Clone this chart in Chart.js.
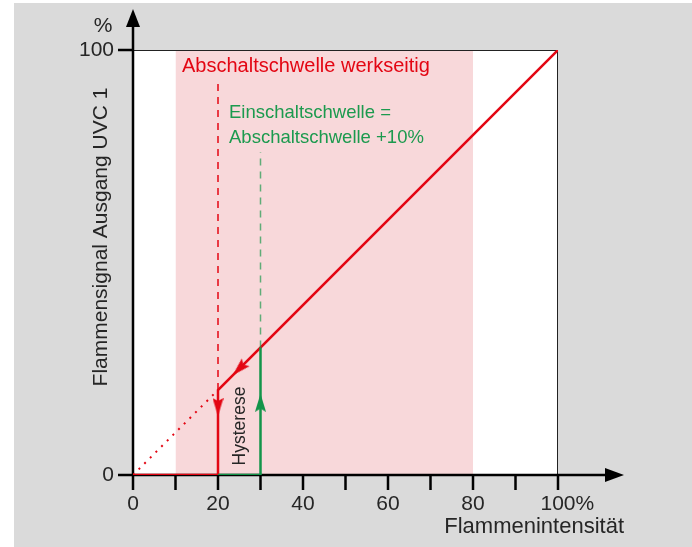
<!DOCTYPE html>
<html>
<head>
<meta charset="utf-8">
<script src="https://cdn.jsdelivr.net/npm/chart.js@4.4.1/dist/chart.umd.min.js"></script>
<style>
  html, body { margin: 0; padding: 0; background: #fff; }
  #wrap { width: 692px; height: 547px; position: relative; }
</style>
</head>
<body>
<div id="wrap"><canvas id="hysterese"></canvas></div>
<script>
// --- Daten ---
const xTickValues = [0, 10, 20, 30, 40, 50, 60, 70, 80, 90, 100];
const xLabelValues = [0, 20, 40, 60, 80, 100];
const xLabels = ['0', '20', '40', '60', '80', '100%'];
const yLabelValues = [0, 100];
const yLabels = ['0', '100'];

// Abschaltkurve (rot) und Einschaltkurve (grün)
const signalX = [0, 20, 20, 100];
const signalY = [0, 0, 20, 100];
const einX = [20, 30, 30];
const einY = [0, 0, 30];
const dottedX = [0, 20];
const dottedY = [0, 20];
// Bereich werkseitige Abschaltschwelle
const bandX = [10, 80];
const bandY = [100, 100];
// Hysteresefläche
const hystX = [20, 30];
const hystY = [20, 30];
// Hilfslinien
const abschaltDashX = [20, 20];
const abschaltDashY = [20, 93];
const einschaltDashX = [30, 30];
const einschaltDashY = [30, 76];
// Pfeile
const arrowX = [20, 30, 25];
const arrowY = [16, 17, 25];
const arrowRot = [180, 0, 225];

const ROT = '#e30613';
const GRUEN = '#13944a';
const TEXT = '#262626';
const FONT = '"Liberation Sans", Arial, sans-serif';

const pts = (xs, ys) => xs.map((x, i) => ({ x: x, y: ys[i] }));

// schlanke Pfeilspitze (zeigt nach oben)
function pfeil(farbe) {
    const cv = document.createElement('canvas');
    cv.width = 11;
    cv.height = 18;
    const c = cv.getContext('2d');
    c.fillStyle = farbe;
    c.beginPath();
    c.moveTo(5.5, 0);
    c.lineTo(11, 18);
    c.lineTo(5.5, 15);
    c.lineTo(0, 18);
    c.closePath();
    c.fill();
    return cv;
}
const pfeilRot = pfeil(ROT);
const pfeilGruen = pfeil(GRUEN);

const rahmen = {
    id: 'rahmen',
    beforeDraw(chart) {
        const c = chart.ctx;
        const a = chart.chartArea;
        c.save();
        c.fillStyle = '#dadada';
        c.fillRect(14, 3, chart.width - 14, chart.height - 3);
        c.fillStyle = '#ffffff';
        c.fillRect(a.left, a.top, a.right - a.left, a.bottom - a.top);
        c.restore();
    },
    beforeDatasetsDraw(chart) {
        const c = chart.ctx;
        const a = chart.chartArea;
        const sx = chart.scales.x, sy = chart.scales.y;
        c.save();
        // dünner Rahmen oben / rechts
        c.strokeStyle = '#222';
        c.lineWidth = 1;
        c.beginPath();
        c.moveTo(a.left, a.top + 0.5);
        c.lineTo(a.right, a.top + 0.5);
        c.moveTo(a.right - 0.5, a.top);
        c.lineTo(a.right - 0.5, a.bottom);
        c.stroke();
        // Achsen
        c.strokeStyle = '#000';
        c.lineWidth = 2.5;
        const x0 = sx.getPixelForValue(0), y0 = sy.getPixelForValue(0);
        c.beginPath();
        c.moveTo(x0, y0 + 15);
        c.lineTo(x0, 24);
        c.moveTo(x0 - 15, y0);
        c.lineTo(608, y0);
        xTickValues.forEach(v => {
            const px = sx.getPixelForValue(v);
            c.moveTo(px, y0);
            c.lineTo(px, y0 + 15);
        });
        yLabelValues.forEach(v => {
            const py = sy.getPixelForValue(v);
            c.moveTo(x0 - 15, py);
            c.lineTo(x0, py);
        });
        c.stroke();
        c.fillStyle = '#000';
        c.beginPath();
        c.moveTo(x0, 9);
        c.lineTo(x0 - 7, 27);
        c.lineTo(x0 + 7, 27);
        c.closePath();
        c.fill();
        c.beginPath();
        c.moveTo(624, y0);
        c.lineTo(605, y0 - 7);
        c.lineTo(605, y0 + 7);
        c.closePath();
        c.fill();
        c.restore();
    },
    afterDatasetsDraw(chart) {
        const c = chart.ctx;
        const sx = chart.scales.x, sy = chart.scales.y;
        c.save();
        c.fillStyle = TEXT;
        c.font = '21px ' + FONT;
        c.textBaseline = 'middle';
        // x-Beschriftung
        xLabelValues.forEach((v, i) => {
            const px = sx.getPixelForValue(v);
            const lab = xLabels[i];
            const num = lab.replace('%', '');
            const w = c.measureText(num).width;
            c.textAlign = 'left';
            c.fillText(lab, px - w / 2, 504);
        });
        // y-Beschriftung
        c.textAlign = 'right';
        yLabelValues.forEach((v, i) => {
            c.fillText(yLabels[i], 114, sy.getPixelForValue(v));
        });
        c.textAlign = 'center';
        c.fillText('%', 103, 26);
        // Achsentitel
        c.font = '22px ' + FONT;
        c.textAlign = 'right';
        c.fillText('Flammenintensität', 624, 527);
        c.font = '21px ' + FONT;
        c.save();
        c.translate(101, 237);
        c.rotate(-Math.PI / 2);
        c.textAlign = 'center';
        c.fillText('Flammensignal Ausgang UVC 1', 0, 0);
        c.restore();
        // Annotationen
        c.font = '20px ' + FONT;
        c.textAlign = 'left';
        c.fillStyle = ROT;
        c.fillText('Abschaltschwelle werkseitig', 182, 66);
        c.font = '18.5px ' + FONT;
        c.fillStyle = '#1c9a4e';
        c.fillText('Einschaltschwelle =', 229, 113);
        c.fillText('Abschaltschwelle +10%', 229, 138);
        c.fillStyle = TEXT;
        c.font = '17.5px ' + FONT;
        c.save();
        c.translate(240, 426);
        c.rotate(-Math.PI / 2);
        c.textAlign = 'center';
        c.fillText('Hysterese', 0, 0);
        c.restore();
        c.restore();
    }
};

const ctx = document.getElementById('hysterese').getContext('2d');
new Chart(ctx, {
    type: 'line',
    data: {
        datasets: [
            {
                data: pts(bandX, bandY),
                borderColor: 'transparent',
                backgroundColor: '#f8d8da',
                fill: 'origin',
                pointRadius: 0,
                borderWidth: 0
            },
            {
                data: pts(hystX, hystY),
                borderColor: 'transparent',
                backgroundColor: '#ececec',
                fill: 'origin',
                pointRadius: 0,
                borderWidth: 0
            },
            {
                data: pts(dottedX, dottedY),
                borderColor: ROT,
                borderWidth: 2,
                borderDash: [2, 6],
                pointRadius: 0,
                fill: false
            },
            {
                data: pts(abschaltDashX, abschaltDashY),
                borderColor: ROT,
                borderWidth: 1.5,
                borderDash: [7, 6],
                pointRadius: 0,
                fill: false
            },
            {
                data: pts(einschaltDashX, einschaltDashY),
                borderColor: 'rgba(30,154,78,0.7)',
                borderWidth: 1.5,
                borderDash: [7, 6],
                pointRadius: 0,
                fill: false
            },
            {
                data: pts(einX, einY),
                borderColor: GRUEN,
                borderWidth: 2.5,
                pointRadius: 0,
                fill: false
            },
            {
                data: pts(signalX, signalY),
                borderColor: ROT,
                borderWidth: 2.5,
                pointRadius: 0,
                fill: false
            },
            {
                data: pts(arrowX, arrowY),
                showLine: false,
                pointStyle: [pfeilRot, pfeilGruen, pfeilRot],
                pointRadius: 8,
                pointRotation: arrowRot
            }
        ]
    },
    options: {
        responsive: true,
        maintainAspectRatio: false,
        animation: false,
        events: [],
        layout: { padding: { left: 133, top: 50, right: 134, bottom: 72 } },
        plugins: {
            legend: { display: false },
            tooltip: { enabled: false },
            filler: { drawTime: 'beforeDatasetsDraw' }
        },
        scales: {
            x: { type: 'linear', min: 0, max: 100, display: false },
            y: { type: 'linear', min: 0, max: 100, display: false }
        }
    },
    plugins: [rahmen]
});
</script>
</body>
</html>
